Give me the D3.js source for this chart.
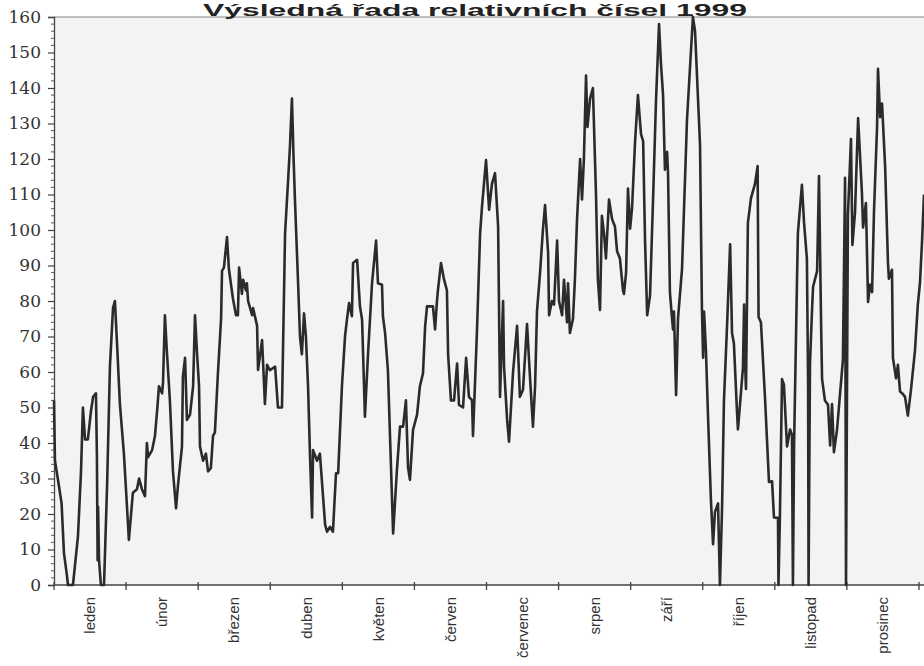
<!DOCTYPE html>
<html><head><meta charset="utf-8">
<script src="https://cdn.jsdelivr.net/npm/d3@7"></script>
<style>body{margin:0;background:#fff}svg{display:block}</style>
</head><body>
<svg id="c" width="924" height="666"></svg>
<script>
const title = "Výsledná řada relativních čísel 1999";
const months = ["leden","únor","březen","duben","květen","červen","červenec","srpen","září","říjen","listopad","prosinec"];
const yTicks = [0,10,20,30,40,50,60,70,80,90,100,110,120,130,140,150,160];
// day of year (x) and relative number (y)
const days = [0,0.4,1.7,3.2,4.2,5.4,5.9,8.0,10.1,11.4,12.2,13.1,14.3,15.6,16.5,17.7,18.1,18.4,18.6,19.0,19.8,21.1,22.4,23.6,24.9,25.7,26.6,27.8,29.5,30.8,31.6,32.9,33.3,35.0,35.9,37.1,38.4,39.2,39.7,41.4,42.6,43.5,44.3,45.6,46.0,46.8,47.7,48.9,50.2,51.5,52.3,54.0,54.4,55.3,56.1,57.4,58.7,59.5,60.3,61.2,61.6,62.9,64.1,65.0,66.2,67.1,67.9,69.2,70.5,70.9,71.7,73.0,73.8,75.5,76.8,77.6,78.1,79.3,79.8,81.0,81.4,81.9,83.6,84.0,85.7,86.1,87.8,89.0,89.9,91.1,93.3,94.5,96.2,96.6,97.5,98.7,99.6,100.4,101.1,101.7,103.0,103.8,104.6,105.5,106.3,107.2,108.0,108.9,109.3,111.0,112.2,114.4,115.2,116.5,117.7,119.0,119.9,121.5,122.8,123.6,124.5,125.7,126.2,127.9,129.1,130.0,131.2,132.5,134.2,135.9,136.7,138.4,138.8,139.7,140.9,143.1,144.7,146.0,147.3,148.5,149.4,150.2,151.5,153.2,154.4,155.7,156.6,157.4,159.9,160.8,161.6,162.0,163.3,164.6,165.8,166.3,167.5,168.8,170.1,170.9,172.6,173.9,175.1,176.4,176.8,177.6,178.5,179.8,180.6,182.3,183.6,184.8,186.1,187.4,188.2,189.5,189.9,191.2,192.0,193.7,195.4,196.6,197.9,199.6,200.9,202.1,203.0,203.8,205.1,206.3,207.2,208.5,208.9,210.1,211.0,212.3,213.1,214.4,215.2,216.5,216.9,217.7,219.0,219.8,220.7,222.0,222.8,223.6,224.5,225.1,226.2,227.4,228.7,229.5,230.4,231.2,232.1,232.9,234.2,235.5,236.7,237.6,238.8,240.1,240.5,241.4,242.2,243.1,243.9,245.2,246.4,247.7,248.6,249.4,250.3,251.5,252.8,254.0,255.3,256.1,257.0,257.8,258.7,259.1,259.9,260.8,261.2,261.6,262.5,263.3,265.0,267.1,269.6,270.5,272.6,273.4,273.9,274.3,275.1,276.0,277.2,278.1,278.9,280.2,281.0,281.9,282.7,284.0,285.3,286.1,286.9,288.2,288.6,289.9,290.7,291.2,291.6,292.0,292.8,294.1,295.8,296.9,297.3,298.3,300.0,301.7,303.0,303.8,305.5,305.7,306.3,307.2,308.0,309.3,310.6,311.4,311.8,312.3,313.5,313.9,315.6,316.5,317.7,318.2,318.4,319.0,319.9,320.3,322.0,322.8,323.7,324.1,325.3,326.6,327.5,328.3,329.1,330.4,331.7,332.9,333.8,334.2,335.0,336.3,336.9,338.0,339.3,340.9,341.4,342.6,343.5,344.3,345.2,346.0,347.3,347.7,348.6,349.4,350.7,351.9,352.3,353.6,354.0,355.3,356.1,357.0,358.2,359.1,360.3,361.6,363.3,364.5,365.4,366.3,367.1];
const values = [52,35,29.6,23,9,3,0,0,13.6,32,50,41,41,49,53,54,37,7,22,7,0,0,28,61.5,78,80,68,51,37,22,12.7,23,26,27,30,27,25,40,36,38,42,49,56,54,57,76,65,52,32,21.6,28,39,58.7,64,46.5,48,56,76,66,56,39,35,37,32,33,42,43,60,75,88.5,89.4,98,89,80.7,76,76,89.4,82,86,83,85,80,76,78,73,60.6,69,51,62,60.5,61.5,50,50,65,99,113,124,137,120,108,85,70,65,76.5,70,56,37,19,38,35,37,17,15,16.4,15,31.5,31.5,56,70,74.7,79.4,75.7,90.7,91.6,78.5,74.7,47.4,65,85,97,85,84.6,75.7,71,60.5,14.5,32.4,44.6,44.6,52,33,29.6,43.7,48,56,59.6,72.8,78.5,78.5,72,80,83,90.7,86,83,65,52,52,62.4,50.7,50,64,53,52,42,56,72,99,106.6,119.7,105.7,113,116,101,53,80,61.5,46.5,40.4,60,73,53,55,73.5,58,44.6,56,77,88,100,107,93.5,76,80,79,97,80,76,86,74,85,71,75,86,103,120,108.6,120,143.5,129,137,140,110,86,77.5,104,99,92,108.6,103,101,94,92,83,82,88,111.7,100.4,106,125,138,127,125,97,76,81.5,109,136,158,147,138,117,122,116,82.4,75,72,77,53.5,75,89,131,160,156,124,78,64,77,66,47,24,11.5,20.6,23,0,21.7,52,73,96,71,68,48.8,43.8,54.4,61,79,62.4,55.2,102,109,113,118,75.5,74,53,29,29.2,19,18.9,0,19,58,56.4,39,43.8,42.3,0,40,85,99.2,112.7,102,91.9,57,0,62.5,78,84,88.4,115.2,73,58,52,50.8,39.3,51,37.4,43.7,54,63.5,114.7,0,104,125.6,95.8,105,131.5,110.7,100.7,107.6,79.7,84.6,82.5,105,129,145.4,131.8,135.6,118,90.9,86.3,88.8,64,58.2,62,54.5,53.8,53,47.7,54.9,66,79,85,97,110];

const svg = d3.select("#c");
const L = 54, R = 919, T = 17, B = 585;
const x = d3.scaleLinear().domain([0, 365]).range([L, R]);
const y = d3.scaleLinear().domain([0, 160]).range([B, T]);

svg.append("rect").attr("x", L).attr("y", T).attr("width", 924 - L).attr("height", B - T).attr("fill", "#f3f3f3");
svg.append("line").attr("x1", L).attr("x2", 924).attr("y1", T).attr("y2", T).attr("stroke", "#888").attr("stroke-width", 1.2);

// y axis
const yAxis = d3.axisLeft(y).tickValues(yTicks).tickSize(6).tickPadding(7);
const gy = svg.append("g").attr("transform", `translate(${L},0)`).call(yAxis)
  .attr("font-family", null).attr("font-size", null);
gy.select(".domain").attr("stroke", "#444").attr("stroke-width", 1.3);
gy.selectAll(".tick line").attr("stroke", "#444").attr("stroke-width", 1.2);
gy.selectAll("text").style("font-family", "'DejaVu Serif','Liberation Serif',serif").style("font-size", "17px").attr("fill", "#333");
const minor = d3.range(0, 161, 2).filter(v => v % 10 !== 0);
svg.append("g").selectAll("line").data(minor).join("line")
  .attr("x1", L - 3).attr("x2", L).attr("y1", d => y(d)).attr("y2", d => y(d))
  .attr("stroke", "#555").attr("stroke-width", 1);

// x axis
const mScale = d3.scaleLinear().domain([0, 12]).range([L, R]);
svg.append("line").attr("x1", L).attr("x2", 924).attr("y1", B).attr("y2", B).attr("stroke", "#444").attr("stroke-width", 1.3);
svg.append("g").selectAll("line").data(d3.range(0, 13)).join("line")
  .attr("x1", d => mScale(d)).attr("x2", d => mScale(d)).attr("y1", B - 3).attr("y2", B + 5)
  .attr("stroke", "#444").attr("stroke-width", 1.3);
svg.append("g").selectAll("text").data(months).join("text")
  .attr("transform", (d, i) => `translate(${mScale(i + 0.5)},${B + 12}) rotate(-90)`)
  .attr("text-anchor", "end").attr("dy", "0.35em")
  .style("font-family", "'Liberation Sans',Arial,sans-serif").style("font-size", "15px").attr("fill", "#333")
  .text(d => d);

// series
const pts = days.map((d, i) => [d, values[i]]);
svg.append("path").datum(pts)
  .attr("d", d3.line().x(d => x(d[0])).y(d => y(d[1])))
  .attr("fill", "none").attr("stroke", "#2b2b2b").attr("stroke-width", 2.6).attr("stroke-linejoin", "round");

// title
svg.append("text").attr("x", 475).attr("y", 16).attr("text-anchor", "middle")
  .attr("textLength", 544).attr("lengthAdjust", "spacingAndGlyphs")
  .style("font-family", "'Liberation Sans',Arial,sans-serif").style("font-weight", "bold").style("font-size", "17px").attr("fill", "#222")
  .text(title);
</script>
</body></html>
